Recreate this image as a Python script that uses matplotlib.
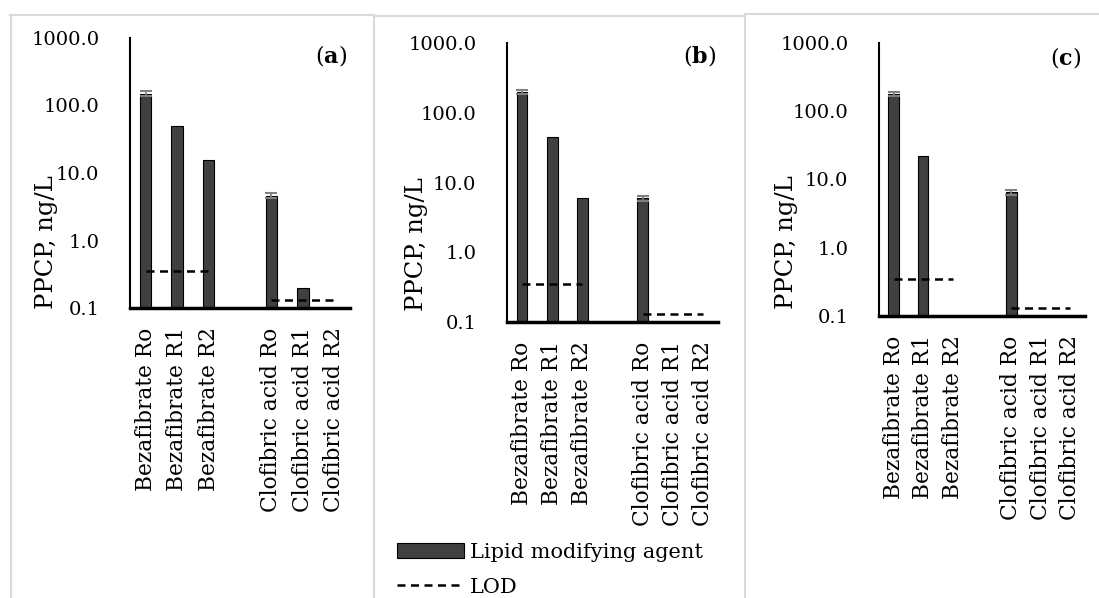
import numpy as np
import matplotlib
matplotlib.use("Agg")
import matplotlib.pyplot as plt
from matplotlib.lines import Line2D
from matplotlib.patches import Patch
from matplotlib.ticker import FixedLocator, FixedFormatter

plt.rcParams['font.family'] = ['DejaVu Serif']
plt.rcParams['mathtext.fontset'] = 'dejavuserif'

categories = ["Bezafibrate Ro", "Bezafibrate R1", "Bezafibrate R2", "",
              "Clofibric acid Ro", "Clofibric acid R1", "Clofibric acid R2"]
nan = np.nan
values_a = [150, 50, 15.5, nan, 4.6, 0.2, nan]
values_b = [200, 45, 5.9, nan, 6.0, nan, nan]
values_c = [180, 22, nan, nan, 6.5, nan, nan]
err_a = [12, 0, 0, nan, 0.4, 0, nan]
err_b = [15, 0, 0, nan, 0.5, nan, nan]
err_c = [14, 0, nan, nan, 0.6, nan, nan]
lod_a = [0.35, 0.35, 0.35, nan, 0.13, 0.13, 0.13]
lod_b = [0.35, 0.35, 0.35, nan, 0.13, 0.13, 0.13]
lod_c = [0.35, 0.35, 0.35, nan, 0.13, 0.13, 0.13]
yticks = [0.1, 1, 10, 100, 1000]
ytick_labels = ["0.1", "1.0", "10.0", "100.0", "1000.0"]
panel_labels = ["a", "b", "c"]

W, H = 1099, 598
fig = plt.figure(figsize=(W / 100, H / 100), dpi=100)

def fr(l, r, t, b):
    return [l / W, 1 - b / H, (r - l) / W, (b - t) / H]

axes_px = [(130, 350, 38, 308), (507, 718, 43, 322), (879, 1085, 43, 316)]
ylabel_pos = [(46, 242), (417, 244), (786, 242)]
panel_lab_pos = [(331, 56), (700, 56), (1066, 58)]
data = [(values_a, err_a, lod_a), (values_b, err_b, lod_b), (values_c, err_c, lod_c)]

bar_color = "#404040"
fs = 15

for i, ((l, r, t, b), (vals, errs, lod)) in enumerate(zip(axes_px, data)):
    ax = fig.add_axes(fr(l, r, t, b))
    x = np.arange(len(categories))
    v = np.array(vals, dtype=float)
    e = np.array(errs, dtype=float)
    mask = ~np.isnan(v)
    ax.bar(x[mask], v[mask], width=0.36, color=bar_color, edgecolor="black", linewidth=0.8, zorder=2)
    em = mask & (np.nan_to_num(e) > 0)
    ax.errorbar(x[em], v[em], yerr=e[em], fmt="none", ecolor="#808080", elinewidth=1.2,
                capsize=4, capthick=1.5, zorder=3)
    ax.plot(x, lod, color="black", linestyle=(0, (3.2, 2.2)), linewidth=1.8, zorder=4)
    ax.set_yscale("log")
    ax.set_ylim(0.1, 1000)
    ax.set_xlim(-0.5, len(categories) - 0.5)
    ax.yaxis.set_major_locator(FixedLocator(yticks))
    ax.yaxis.set_major_formatter(FixedFormatter(ytick_labels))
    ax.yaxis.set_minor_locator(FixedLocator([]))
    ax.set_xticks(x)
    ax.set_xticklabels(categories, rotation=90, fontsize=15.7)
    ax.tick_params(axis="y", length=0, pad=22, labelsize=14)
    ax.tick_params(axis="x", length=0, pad=14)
    for s in ["top", "right"]:
        ax.spines[s].set_visible(False)
    ax.spines["left"].set_linewidth(1.5)
    ax.spines["bottom"].set_linewidth(2.5)
    ax.patch.set_alpha(0)
    fig.text(ylabel_pos[i][0] / W, 1 - ylabel_pos[i][1] / H, "PPCP, ng/L", rotation=90,
             ha="center", va="center", fontsize=17.5)
    fig.text(panel_lab_pos[i][0] / W, 1 - panel_lab_pos[i][1] / H,
             r"(" + r"$\mathbf{" + panel_labels[i] + "}$" + ")", ha="center", va="center",
             fontsize=16)

# panel borders
border = "#d9d9d9"
def hline(x0, x1, y):
    fig.add_artist(Line2D([x0 / W, x1 / W], [1 - y / H, 1 - y / H], color=border, lw=1.5))
def vline(x, y0, y1):
    fig.add_artist(Line2D([x / W, x / W], [1 - y0 / H, 1 - y1 / H], color=border, lw=1.5))
hline(10, 374, 15)
hline(374, 745, 15.5)
hline(745, W, 14)
vline(10.5, 15, H)
vline(374, 15, H)
vline(745, 14, H)

handles = [Patch(facecolor=bar_color, edgecolor="black", linewidth=0.8),
           Line2D([0], [0], color="black", linestyle=(0, (3.2, 2.2)), linewidth=1.8)]
fig.legend(handles, ["Lipid modifying agent", "LOD"], loc="upper left",
           bbox_to_anchor=(397 / W, 1 - 543 / H), frameon=False, fontsize=fs,
           handlelength=3.2, handleheight=0.72, handletextpad=0.3, labelspacing=0.75,
           borderaxespad=0, borderpad=0)

fig.savefig("out.png", dpi=100)
